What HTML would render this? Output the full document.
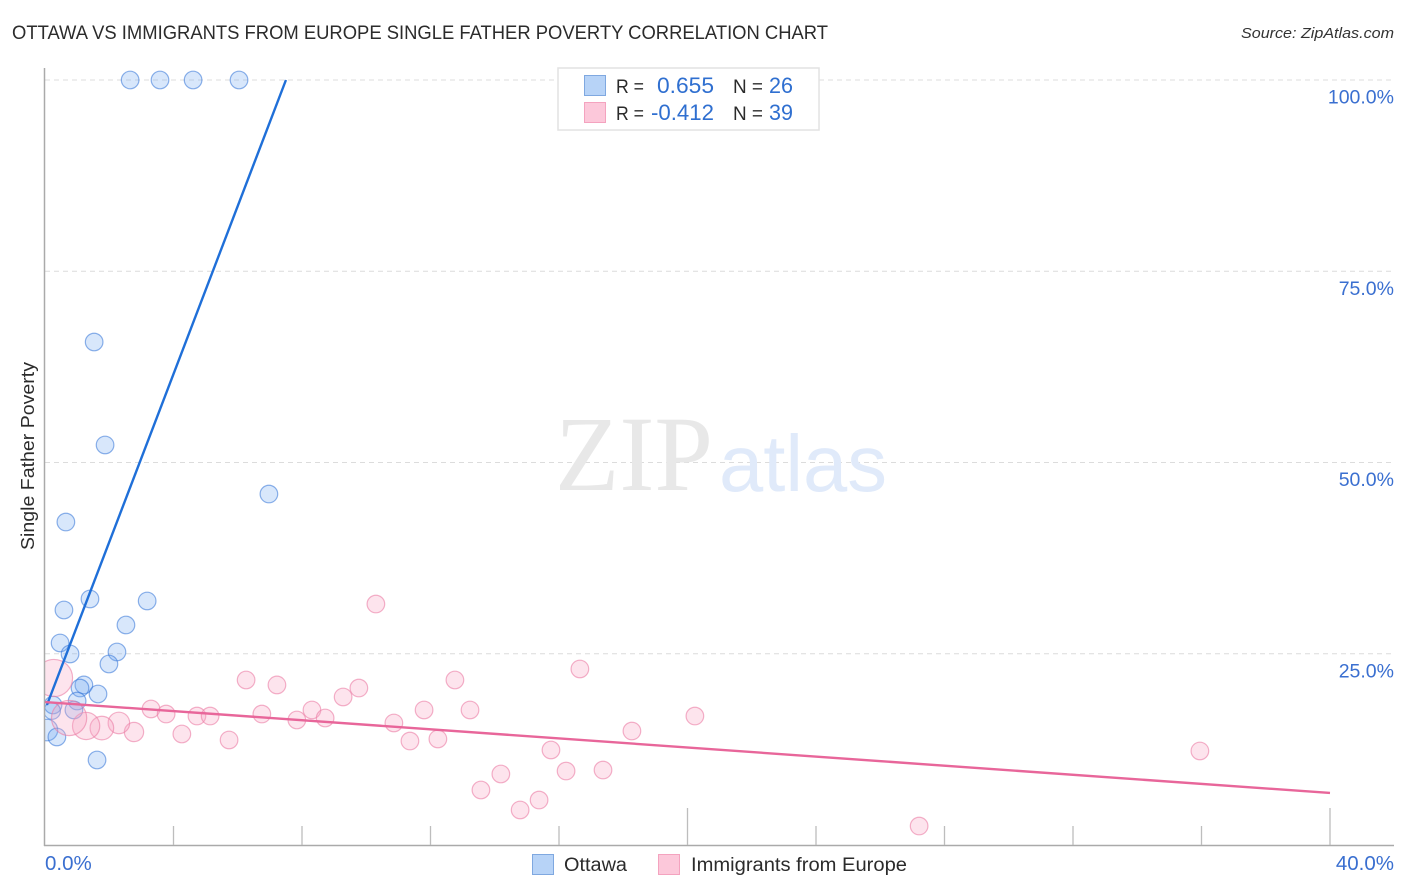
<!DOCTYPE html>
<html lang="en">
<head>
<meta charset="utf-8">
<title>Ottawa vs Immigrants from Europe Single Father Poverty Correlation Chart</title>
<style>
html,body{margin:0;padding:0;background:#fff;}
body{width:1406px;height:892px;overflow:hidden;}
svg{display:block;}
text{font-family:"Liberation Sans",sans-serif;}
</style>
</head>
<body>
<svg id="chart" width="1406" height="892" viewBox="0 0 1406 892" xmlns="http://www.w3.org/2000/svg">
  <defs>
    <clipPath id="plot-clip"><rect x="45" y="66" width="1350" height="779"/></clipPath>
  </defs>
  <text x="12" y="39" font-size="19" fill="#2b2b2b" textLength="816" lengthAdjust="spacingAndGlyphs">OTTAWA VS IMMIGRANTS FROM EUROPE SINGLE FATHER POVERTY CORRELATION CHART</text>
  <text x="1241" y="38" font-size="15" font-style="italic" fill="#333" textLength="153" lengthAdjust="spacingAndGlyphs">Source: ZipAtlas.com</text>

  <g id="grid"></g>

  <g>
    <text x="555" y="490" font-size="107" fill="#e8e8e8" style="font-family:'Liberation Serif',serif" textLength="158" lengthAdjust="spacingAndGlyphs">ZIP</text>
    <text x="719" y="491" font-size="80" fill="#e0eafa" textLength="168" lengthAdjust="spacingAndGlyphs">atlas</text>
  </g>

  <g id="marks" clip-path="url(#plot-clip)"></g>

  <g id="axes"></g>

  <text transform="translate(34,456) rotate(-90)" text-anchor="middle" font-size="18" fill="#2b2b2b" textLength="188" lengthAdjust="spacingAndGlyphs">Single Father Poverty</text>

  <g>
    <rect x="558" y="68" width="261" height="62" fill="#fff" stroke="#e2e2e2" stroke-width="1.5"/>
    <rect x="584.5" y="75.5" width="21" height="20" fill="#b7d3f7" stroke="#7fa8e0" stroke-width="1"/>
    <text x="616" y="93" font-size="19" fill="#2b2b2b" textLength="28" lengthAdjust="spacingAndGlyphs">R =</text>
    <text x="657" y="93" font-size="22" fill="#2f6fd0" textLength="57" lengthAdjust="spacingAndGlyphs">0.655</text>
    <text x="733" y="93" font-size="19" fill="#2b2b2b" textLength="30" lengthAdjust="spacingAndGlyphs">N =</text>
    <text x="769" y="93" font-size="22" fill="#2f6fd0" textLength="24" lengthAdjust="spacingAndGlyphs">26</text>
    <rect x="584.5" y="102.5" width="21" height="20" fill="#fcc8da" stroke="#f4a3bf" stroke-width="1"/>
    <text x="616" y="120" font-size="19" fill="#2b2b2b" textLength="28" lengthAdjust="spacingAndGlyphs">R =</text>
    <text x="651" y="120" font-size="22" fill="#2f6fd0" textLength="63" lengthAdjust="spacingAndGlyphs">-0.412</text>
    <text x="733" y="120" font-size="19" fill="#2b2b2b" textLength="30" lengthAdjust="spacingAndGlyphs">N =</text>
    <text x="769" y="120" font-size="22" fill="#2f6fd0" textLength="24" lengthAdjust="spacingAndGlyphs">39</text>
  </g>

  <g>
    <rect x="532.5" y="854.5" width="21" height="20" fill="#b7d3f7" stroke="#7fa8e0" stroke-width="1"/>
    <text x="564" y="871" font-size="19" fill="#2b2b2b" textLength="63" lengthAdjust="spacingAndGlyphs">Ottawa</text>
    <rect x="658.5" y="854.5" width="21" height="20" fill="#fcc8da" stroke="#f4a3bf" stroke-width="1"/>
    <text x="691" y="871" font-size="19" fill="#2b2b2b" textLength="216" lengthAdjust="spacingAndGlyphs">Immigrants from Europe</text>
  </g>
</svg>
<script>
const yTickValues = [25, 50, 75, 100];
const yTickLabels = ["25.0%", "50.0%", "75.0%", "100.0%"];
const xTickValues = [4, 8, 12, 16, 20, 24, 28, 32, 36, 40];
const xEndValues = [0, 40];
const xEndLabels = ["0.0%", "40.0%"];

const ottawaX = [2.65, 3.58, 4.61, 6.04, 1.53, 1.87, 6.97, 0.65, 1.40, 3.18, 0.59, 2.52, 0.47, 0.78, 2.24, 1.99, 1.21, 1.09, 1.65, 1.00, 0.90, 0.25, 0.22, 0.06, 0.37, 1.62];
const ottawaY = [100, 100, 100, 100, 65.75, 52.29, 45.88, 42.22, 32.16, 31.90, 30.72, 28.76, 26.41, 24.97, 25.23, 23.66, 20.92, 20.52, 19.74, 18.82, 17.65, 18.30, 17.52, 15.03, 14.12, 11.11];
const ottawaWeight = [1, 1, 1, 1, 1, 1, 1, 1, 1, 1, 1, 1, 1, 1, 1, 1, 1, 1, 1, 1, 1, 1, 0.9, 1.5, 1, 1];

const immigrantsX = [10.30, 16.65, 6.26, 7.22, 9.77, 12.76, 9.28, 3.30, 3.77, 4.73, 5.14, 6.75, 7.84, 8.31, 8.72, 10.86, 11.80, 13.23, 11.36, 12.23, 4.26, 2.77, 2.30, 1.77, 1.28, 5.73, 15.75, 14.19, 16.22, 17.37, 13.57, 15.38, 14.79, 18.27, 20.23, 35.95, 27.21, 0.28, 0.75];
const immigrantsY = [31.50, 23.01, 21.57, 20.92, 20.52, 21.57, 19.35, 17.78, 17.12, 16.86, 16.86, 17.12, 16.34, 17.65, 16.60, 15.95, 17.65, 17.65, 13.59, 13.86, 14.51, 14.77, 15.95, 15.29, 15.56, 13.73, 12.42, 9.28, 9.67, 9.80, 7.19, 5.88, 4.58, 14.90, 16.86, 12.29, 2.48, 21.83, 16.60];
const immigrantsWeight = [1, 1, 1, 1, 1, 1, 1, 1, 1, 1, 1, 1, 1, 1, 1, 1, 1, 1, 1, 1, 1, 1.2, 1.5, 1.8, 2.4, 1, 1, 1, 1, 1, 1, 1, 1, 1, 1, 1, 1, 4.46, 4];

const ottawaTrendX = [0.06, 7.5];
const ottawaTrendY = [18.30, 100];
const immigrantsTrendX = [0, 40];
const immigrantsTrendY = [18.69, 6.80];

const NS = "http://www.w3.org/2000/svg";
function xScale(v) { return 45 + v * (1285 / 40); }
function yScale(v) { return 845 - v * 7.65; }
function rScale(w) { return 8.8 * Math.sqrt(w); }
function make(tag, attrs) {
  const el = document.createElementNS(NS, tag);
  for (const k in attrs) el.setAttribute(k, attrs[k]);
  return el;
}

const grid = document.getElementById("grid");
const axes = document.getElementById("axes");
const marks = document.getElementById("marks");

yTickValues.forEach(function (v, i) {
  const line = make("line", { x1: 45, x2: 1394, y1: yScale(v), y2: yScale(v), stroke: "#dcdcdc", "stroke-width": 1, "stroke-dasharray": "5 4" });
  
  
  grid.appendChild(line);
  const label = make("text", { x: 1394, y: yScale(v) + 23.5, "text-anchor": "end", "font-size": 19.5, fill: "#3a6fd0" });
  
  
  label.textContent = yTickLabels[i];
  axes.appendChild(label);
});

const yAxis = make("line", { x1: 44.5, x2: 44.5, y1: 68, y2: 846, stroke: "#aaaaaa", "stroke-width": 1.5 });


axes.appendChild(yAxis);

const xAxis = make("line", { x1: 44, x2: 1394, y1: 845.5, y2: 845.5, stroke: "#aaaaaa", "stroke-width": 1.5 });


axes.appendChild(xAxis);

xTickValues.forEach(function (v) {
  const major = v % 20 === 0;
  const tick = make("line", { x1: xScale(v), x2: xScale(v), y1: major ? 808 : 826, y2: 845, stroke: "#bdbdbd", "stroke-width": 1.3 });
  
  
  axes.appendChild(tick);
});

xEndValues.forEach(function (v, i) {
  const label = make("text", { x: i === 0 ? xScale(v) : 1394, y: 870, "text-anchor": i === 0 ? "start" : "end", "font-size": 20.5, fill: "#3a6fd0" });
  
  
  label.textContent = xEndLabels[i];
  axes.appendChild(label);
});

ottawaX.forEach(function (v, i) {
  const c = make("circle", { cx: xScale(v), cy: yScale(ottawaY[i]), r: rScale(ottawaWeight[i]), fill: "rgba(110,165,240,0.27)", stroke: "rgba(50,115,215,0.55)", "stroke-width": 1.2 });
  
  
  marks.appendChild(c);
});

immigrantsX.forEach(function (v, i) {
  const c = make("circle", { cx: xScale(v), cy: yScale(immigrantsY[i]), r: rScale(immigrantsWeight[i]), fill: "rgba(248,165,195,0.3)", stroke: "rgba(235,125,165,0.6)", "stroke-width": 1.2 });
  
  
  marks.appendChild(c);
});

const ottawaTrend = make("line", { x1: xScale(ottawaTrendX[0]), y1: yScale(ottawaTrendY[0]), x2: xScale(ottawaTrendX[1]), y2: yScale(ottawaTrendY[1]), stroke: "#1f6fd8", "stroke-width": 2.4 });


marks.appendChild(ottawaTrend);

const immigrantsTrend = make("line", { x1: xScale(immigrantsTrendX[0]), y1: yScale(immigrantsTrendY[0]), x2: xScale(immigrantsTrendX[1]), y2: yScale(immigrantsTrendY[1]), stroke: "#e8669a", "stroke-width": 2.4 });


marks.appendChild(immigrantsTrend);
</script>
</body>
</html>
